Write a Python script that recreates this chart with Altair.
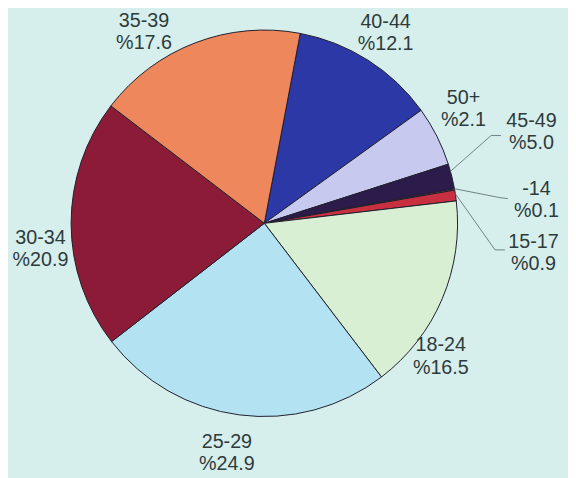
import math
import pandas as pd
import altair as alt

# ---- data (pie order, clockwise from the top) ----
categories = ["40-44", "45-49", "50+", "-14", "15-17", "18-24", "25-29", "30-34", "35-39"]
values = [12.1, 5.0, 2.1, 0.1, 0.9, 16.5, 24.9, 20.9, 17.6]
colors = ["#2b38a6", "#c7c9ef", "#2c1c4c", "#e46272", "#c9303f",
          "#d9efd3", "#b3e3f3", "#8b1b37", "#ef875d"]
labels = [f"{c}\n%{v:.1f}" for c, v in zip(categories, values)]

# ---- layout ----
W, H = 516, 430
CX, CY = 260, 215
R = 196
START = math.radians(10.7)

label_dx = [123, 271, 202, 276, 273, 179, -38, -227, -122]
label_dy = [-204.5, -104, -127, -34.5, 19, 124, 222, 15, -205]

leader_cats = ["45-49", "-14", "15-17"]
leader_angle = [74.4, 79.7, 81.2]
leader_elbow = [(230, -89), (239, -26), (234, 27)]
leader_end = [(240, -89), (247, -25), (244, 27)]

pie_df = pd.DataFrame({
    "cat": categories,
    "value": values,
    "idx": list(range(len(categories))),
})

lab_df = pd.DataFrame({
    "cat": categories,
    "label": labels,
    "lx": [CX + d for d in label_dx],
    "ly": [CY + d for d in label_dy],
})

rows = []
for c, a, el, en in zip(leader_cats, leader_angle, leader_elbow, leader_end):
    t = math.radians(a)
    rows.append({"cat": c, "k": 0, "x": CX + R * math.sin(t), "y": CY - R * math.cos(t)})
    rows.append({"cat": c, "k": 1, "x": CX + el[0], "y": CY + el[1]})
    rows.append({"cat": c, "k": 2, "x": CX + en[0], "y": CY + en[1]})
lead_df = pd.DataFrame(rows)

pie = alt.Chart(pie_df).mark_arc(
    outerRadius=R, stroke="#1e1e2c", strokeWidth=1
).encode(
    x=alt.value(CX),
    y=alt.value(CY),
    theta=alt.Theta("value:Q", stack=True,
                    scale=alt.Scale(range=[START, START + 2 * math.pi])),
    color=alt.Color("cat:N", scale=alt.Scale(domain=categories, range=colors), legend=None),
    order=alt.Order("idx:Q"),
)

leaders = alt.Chart(lead_df).mark_line(
    color="#6f8080", strokeWidth=1
).encode(
    x=alt.X("x:Q", scale=None),
    y=alt.Y("y:Q", scale=None),
    detail="cat:N",
    order=alt.Order("k:Q"),
)

text = alt.Chart(lab_df).mark_text(
    font="Liberation Sans", fontSize=20, color="#2e3b3b",
    align="center", baseline="middle", lineBreak="\n", lineHeight=22.5,
).encode(
    x=alt.X("lx:Q", scale=None),
    y=alt.Y("ly:Q", scale=None),
    text="label:N",
)

chart = alt.layer(pie, leaders, text).properties(
    width=W, height=H,
    autosize=alt.AutoSizeParams(type="none"),
    padding={"left": 0, "top": 0, "right": 52, "bottom": 40},
    background="#d6efed",
).configure_view(stroke=None)

chart.save("out.html", embed_options={"renderer": "svg", "actions": False})
